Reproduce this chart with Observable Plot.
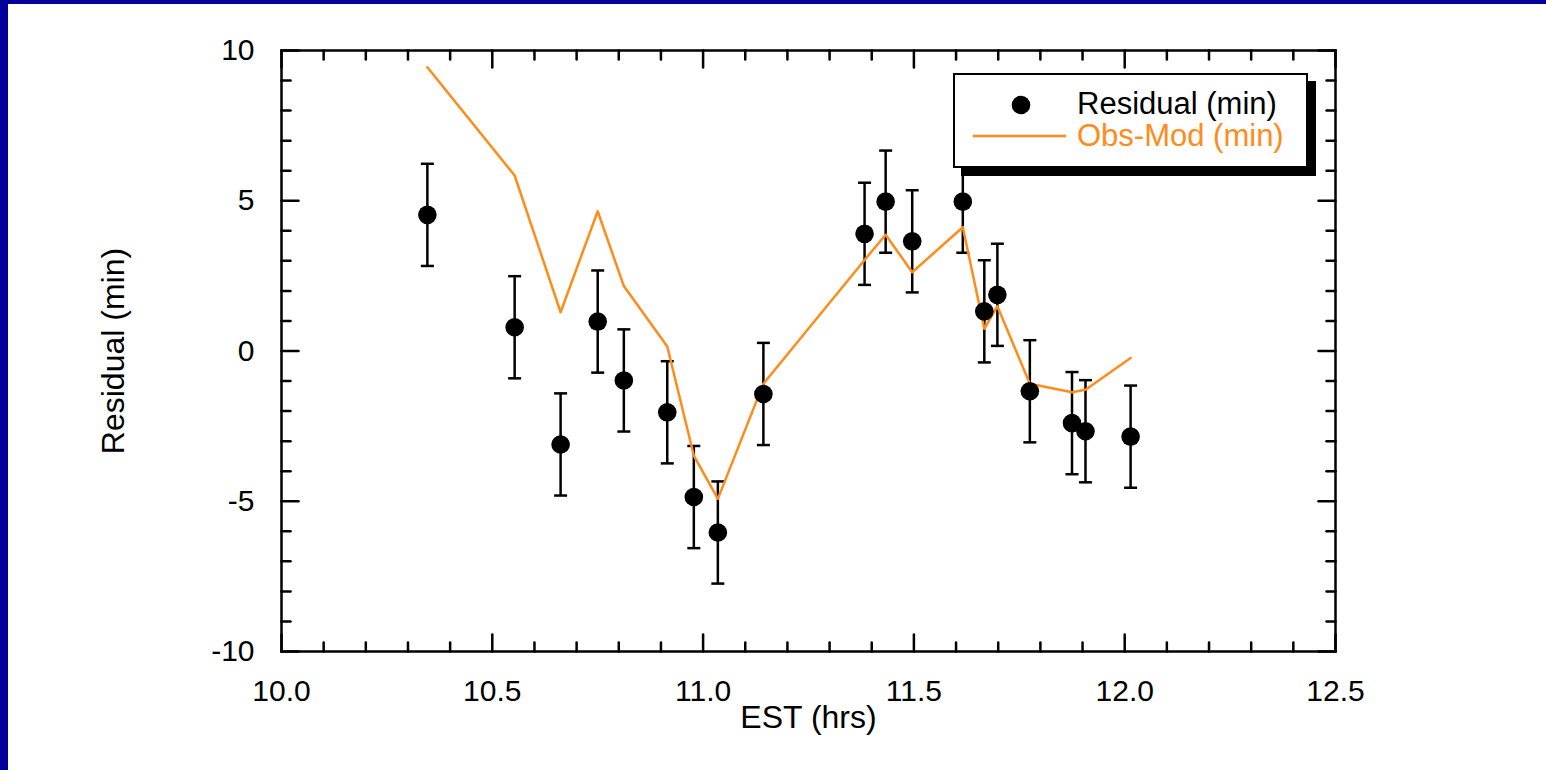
<!DOCTYPE html>
<html><head><meta charset="utf-8">
<script src="https://cdn.jsdelivr.net/npm/d3@7"></script>
<script src="https://cdn.jsdelivr.net/npm/@observablehq/plot@0.6"></script>
<style>
html,body{margin:0;padding:0;background:#fff;overflow:hidden}
#wrap{position:relative;width:1546px;height:770px;font-family:"Liberation Sans",Arial,sans-serif}
#wrap svg{position:absolute;left:0;top:0}
.bl{position:absolute;left:0;top:0;width:8px;height:770px;background:#00009c}
.bt{position:absolute;left:0;top:0;width:1546px;height:4px;background:#00009c}
#legend{position:absolute;left:953px;top:73px;width:351px;height:91px;border:2.5px solid #000;box-shadow:8px 8px 0 #000;background:#fff}
#legend svg{position:absolute;left:0;top:0}
</style></head>
<body><div id="wrap"><div class="bl"></div><div class="bt"></div></div>
<script>
const estHours = [10.346, 10.553, 10.662, 10.750, 10.812, 10.915, 10.978, 11.035, 11.143, 11.383, 11.433, 11.496, 11.616, 11.667, 11.698, 11.775, 11.875, 11.907, 12.014];
const residual = [4.53, 0.79, -3.11, 0.98, -0.98, -2.04, -4.86, -6.04, -1.43, 3.90, 4.97, 3.65, 4.97, 1.32, 1.87, -1.34, -2.40, -2.67, -2.85];
const residualErr = [1.7, 1.7, 1.7, 1.7, 1.7, 1.7, 1.7, 1.7, 1.7, 1.7, 1.7, 1.7, 1.7, 1.7, 1.7, 1.7, 1.7, 1.7, 1.7];
const obsMod = [9.44, 5.84, 1.29, 4.65, 2.16, 0.15, -3.48, -4.92, -1.09, 3.03, 3.87, 2.62, 4.12, 0.74, 1.49, -1.09, -1.37, -1.29, -0.23];
const xTicks = [10.0, 10.5, 11.0, 11.5, 12.0, 12.5];
const yTicks = [-10, -5, 0, 5, 10];
const xMinorTicks = d3.range(101, 125).filter(v => v % 5 !== 0).map(v => v / 10);
const yMinorTicks = d3.range(-9, 10).filter(v => v % 5 !== 0);
const legendLabels = ["Residual (min)", "Obs-Mod (min)"];
const xLabel = "EST (hrs)";
const yLabel = "Residual (min)";

const orange = "#ff8c1a";
const font = '"Liberation Sans", Arial, sans-serif';
const data = estHours.map((x, i) => ({x, y: residual[i], e: residualErr[i], m: obsMod[i]}));

const tickShape = {draw(ctx, l) { ctx.moveTo(0, 0); ctx.lineTo(0, -l); }};
const capSymbol = {draw(ctx, size) { const w = Math.sqrt(size / Math.PI); ctx.moveTo(-w, 0); ctx.lineTo(w, 0); }};

function ticks(values, side, len) {
  const rot = {bottom: 0, top: 180, left: 90, right: -90}[side];
  const ch = (side === "bottom" || side === "top") ? {x: d => d} : {y: d => d};
  return Plot.vector(values, {...ch, frameAnchor: side, length: len, rotate: rot, anchor: "start", shape: tickShape, stroke: "black", strokeWidth: 2.5});
}

const chart = Plot.plot({
  width: 1546, height: 770,
  marginLeft: 281, marginRight: 211, marginTop: 50, marginBottom: 119,
  style: {fontFamily: font, fontSize: "30px", background: "transparent", color: "black"},
  x: {domain: [10, 12.5]},
  y: {domain: [-10, 10]},
  marks: [
    Plot.frame({stroke: "black", strokeWidth: 2.5}),
    ticks(xTicks, "bottom", 17), ticks(xTicks, "top", 17),
    ticks(xMinorTicks, "bottom", 9), ticks(xMinorTicks, "top", 9),
    ticks(yTicks, "left", 17), ticks(yTicks, "right", 17),
    ticks(yMinorTicks, "left", 9), ticks(yMinorTicks, "right", 9),
    Plot.axisX({ticks: xTicks, tickSize: 0, tickPadding: 28, tickFormat: d => d.toFixed(1), fontSize: 30, label: null}),
    Plot.axisX({ticks: [], tickSize: 0, label: xLabel, labelArrow: "none", labelAnchor: "center", labelOffset: 76, fontSize: 32, dx: -6}),
    Plot.axisY({ticks: yTicks, tickSize: 0, tickPadding: 27, tickFormat: d => String(d), fontSize: 30, label: null}),
    Plot.axisY({ticks: [], tickSize: 0, label: yLabel, labelArrow: "none", labelAnchor: "center", labelOffset: 180, fontSize: 32, dy: 7}),
    Plot.ruleX(data, {x: "x", y1: d => d.y - d.e, y2: d => d.y + d.e, stroke: "black", strokeWidth: 2.5}),
    Plot.dot(data, {x: "x", y: d => d.y + d.e, r: 6.5, symbol: capSymbol, fill: "none", stroke: "black", strokeWidth: 2.5}),
    Plot.dot(data, {x: "x", y: d => d.y - d.e, r: 6.5, symbol: capSymbol, fill: "none", stroke: "black", strokeWidth: 2.5}),
    Plot.line(data, {x: "x", y: "m", stroke: orange, strokeWidth: 2.5}),
    Plot.dot(data, {x: "x", y: "y", r: 9.3, fill: "black", stroke: "none"})
  ]
});
const wrap = document.getElementById("wrap");
wrap.appendChild(chart);

// legend
const leg = document.createElement("div");
leg.id = "legend";
const ns = "http://www.w3.org/2000/svg";
const ls = document.createElementNS(ns, "svg");
ls.setAttribute("width", 351); ls.setAttribute("height", 91);
ls.innerHTML = `
  <circle cx="66" cy="30" r="9.3" fill="black"/>
  <text x="122" y="39" font-size="31" font-family='${font}' fill="black">${legendLabels[0]}</text>
  <line x1="18" x2="111" y1="61" y2="61" stroke="${orange}" stroke-width="2.5"/>
  <text x="122" y="71" font-size="31" font-family='${font}' fill="${orange}">${legendLabels[1]}</text>`;
leg.appendChild(ls);
wrap.appendChild(leg);
</script>
</body></html>
